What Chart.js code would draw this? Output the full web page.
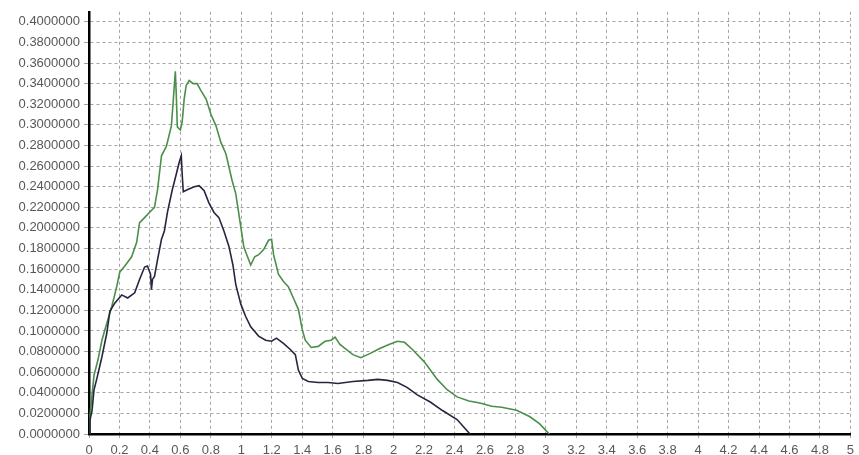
<!DOCTYPE html>
<html>
<head>
<meta charset="utf-8">
<script src="https://cdn.jsdelivr.net/npm/chart.js@4/dist/chart.umd.min.js"></script>
<style>
  html, body { margin: 0; padding: 0; background: #ffffff; }
  #wrap { width: 859px; height: 455px; }
</style>
</head>
<body>
<div id="wrap"><canvas id="c" width="859" height="455"></canvas></div>
<script>
// ---- data ----
const xTickLabels = ['0','0.2','0.4','0.6','0.8','1','1.2','1.4','1.6','1.8','2','2.2','2.4','2.6','2.8','3','3.2','3.4','3.6','3.8','4','4.2','4.4','4.6','4.8','5'];
const yTickLabels = ['0.0000000','0.0200000','0.0400000','0.0600000','0.0800000','0.1000000','0.1200000','0.1400000','0.1600000','0.1800000','0.2000000','0.2200000','0.2400000','0.2600000','0.2800000','0.3000000','0.3200000','0.3400000','0.3600000','0.3800000','0.4000000'];

const greenX = [0,0.0065,0.02,0.033,0.059,0.085,0.104,0.15,0.182,0.202,0.235,0.28,0.313,0.332,0.365,0.397,0.43,0.45,0.476,0.508,0.541,0.554,0.567,0.573,0.58,0.6,0.612,0.625,0.638,0.658,0.684,0.71,0.736,0.769,0.801,0.834,0.866,0.899,0.938,0.964,0.997,1.016,1.036,1.062,1.088,1.114,1.147,1.179,1.199,1.212,1.244,1.277,1.309,1.342,1.375,1.401,1.42,1.459,1.505,1.55,1.59,1.616,1.648,1.681,1.733,1.785,1.844,1.909,1.974,2.026,2.072,2.124,2.202,2.287,2.352,2.417,2.495,2.567,2.645,2.71,2.808,2.893,2.958,3.023];
const greenY = [0,0.0185,0.038,0.057,0.072,0.091,0.101,0.124,0.143,0.157,0.163,0.172,0.186,0.205,0.21,0.215,0.22,0.237,0.27,0.279,0.299,0.325,0.352,0.33,0.298,0.295,0.303,0.325,0.338,0.343,0.34,0.34,0.333,0.325,0.31,0.299,0.283,0.272,0.247,0.233,0.201,0.182,0.174,0.164,0.172,0.174,0.179,0.188,0.189,0.174,0.155,0.148,0.143,0.132,0.121,0.101,0.091,0.084,0.085,0.09,0.091,0.094,0.087,0.083,0.077,0.074,0.078,0.083,0.087,0.09,0.089,0.082,0.07,0.053,0.043,0.036,0.032,0.03,0.027,0.026,0.023,0.017,0.01,0];

const darkX = [0,0.0065,0.02,0.033,0.052,0.085,0.117,0.137,0.169,0.215,0.254,0.3,0.332,0.365,0.384,0.404,0.41,0.417,0.43,0.45,0.476,0.495,0.515,0.547,0.573,0.593,0.606,0.612,0.619,0.645,0.691,0.723,0.756,0.788,0.821,0.853,0.886,0.919,0.945,0.964,0.997,1.029,1.062,1.114,1.16,1.199,1.231,1.277,1.322,1.355,1.375,1.401,1.44,1.505,1.57,1.635,1.733,1.831,1.896,1.961,2.026,2.091,2.156,2.241,2.319,2.417,2.502];
const darkY = [0,0.0136,0.023,0.043,0.054,0.075,0.098,0.119,0.127,0.135,0.132,0.137,0.15,0.162,0.163,0.155,0.14,0.15,0.153,0.169,0.189,0.197,0.215,0.237,0.252,0.264,0.27,0.252,0.235,0.237,0.24,0.241,0.236,0.224,0.215,0.21,0.197,0.182,0.164,0.145,0.126,0.114,0.104,0.095,0.091,0.09,0.093,0.088,0.082,0.077,0.062,0.054,0.051,0.05,0.05,0.049,0.051,0.052,0.053,0.052,0.05,0.045,0.038,0.031,0.023,0.014,0];

const toPoints = (xs, ys) => xs.map((x, i) => ({ x: x, y: ys[i] }));

const gridColor = '#a4a4a4';
const labelColor = '#585858';
const font = { family: 'Liberation Sans, Arial, sans-serif', size: 13 };

new Chart(document.getElementById('c'), {
  type: 'line',
  data: {
    datasets: [
      { label: 'dark', data: toPoints(darkX, darkY), borderColor: '#262640', borderWidth: 1.6, pointRadius: 0, tension: 0, fill: false },
      { label: 'green', data: toPoints(greenX, greenY), borderColor: '#4a8f4a', borderWidth: 1.6, pointRadius: 0, tension: 0, fill: false }
    ]
  },
  options: {
    responsive: false,
    animation: false,
    events: [],
    layout: { padding: { left: 0, right: 1, top: 0, bottom: 0 } },
    plugins: { legend: { display: false }, tooltip: { enabled: false }, title: { display: false } },
    scales: {
      x: {
        type: 'linear',
        min: 0,
        max: 5,
        afterBuildTicks: (scale) => { scale.ticks = xTickLabels.map(l => ({ value: parseFloat(l) })); },
        afterFit: (scale) => { scale.height = 21; },
        ticks: {
          autoSkip: false,
          maxRotation: 0,
          color: labelColor,
          font: font,
          padding: 5,
          callback: (v, i) => xTickLabels[i]
        },
        grid: { color: gridColor, lineWidth: 1, tickLength: 4, tickColor: gridColor, drawTicks: true },
        border: { color: '#000000', width: 2.5, dash: [3, 3] }
      },
      y: {
        type: 'linear',
        min: 0,
        max: 0.4097,
        afterBuildTicks: (scale) => { scale.ticks = yTickLabels.map(l => ({ value: parseFloat(l) })); },
        afterFit: (scale) => { scale.width = 89; },
        ticks: {
          autoSkip: false,
          color: labelColor,
          font: font,
          padding: 4,
          callback: (v, i) => yTickLabels[i]
        },
        grid: { color: gridColor, lineWidth: 1, tickLength: 5, tickColor: gridColor, drawTicks: true },
        border: { color: '#000000', width: 2.5, dash: [3, 3] }
      }
    }
  }
});
</script>
</body>
</html>
